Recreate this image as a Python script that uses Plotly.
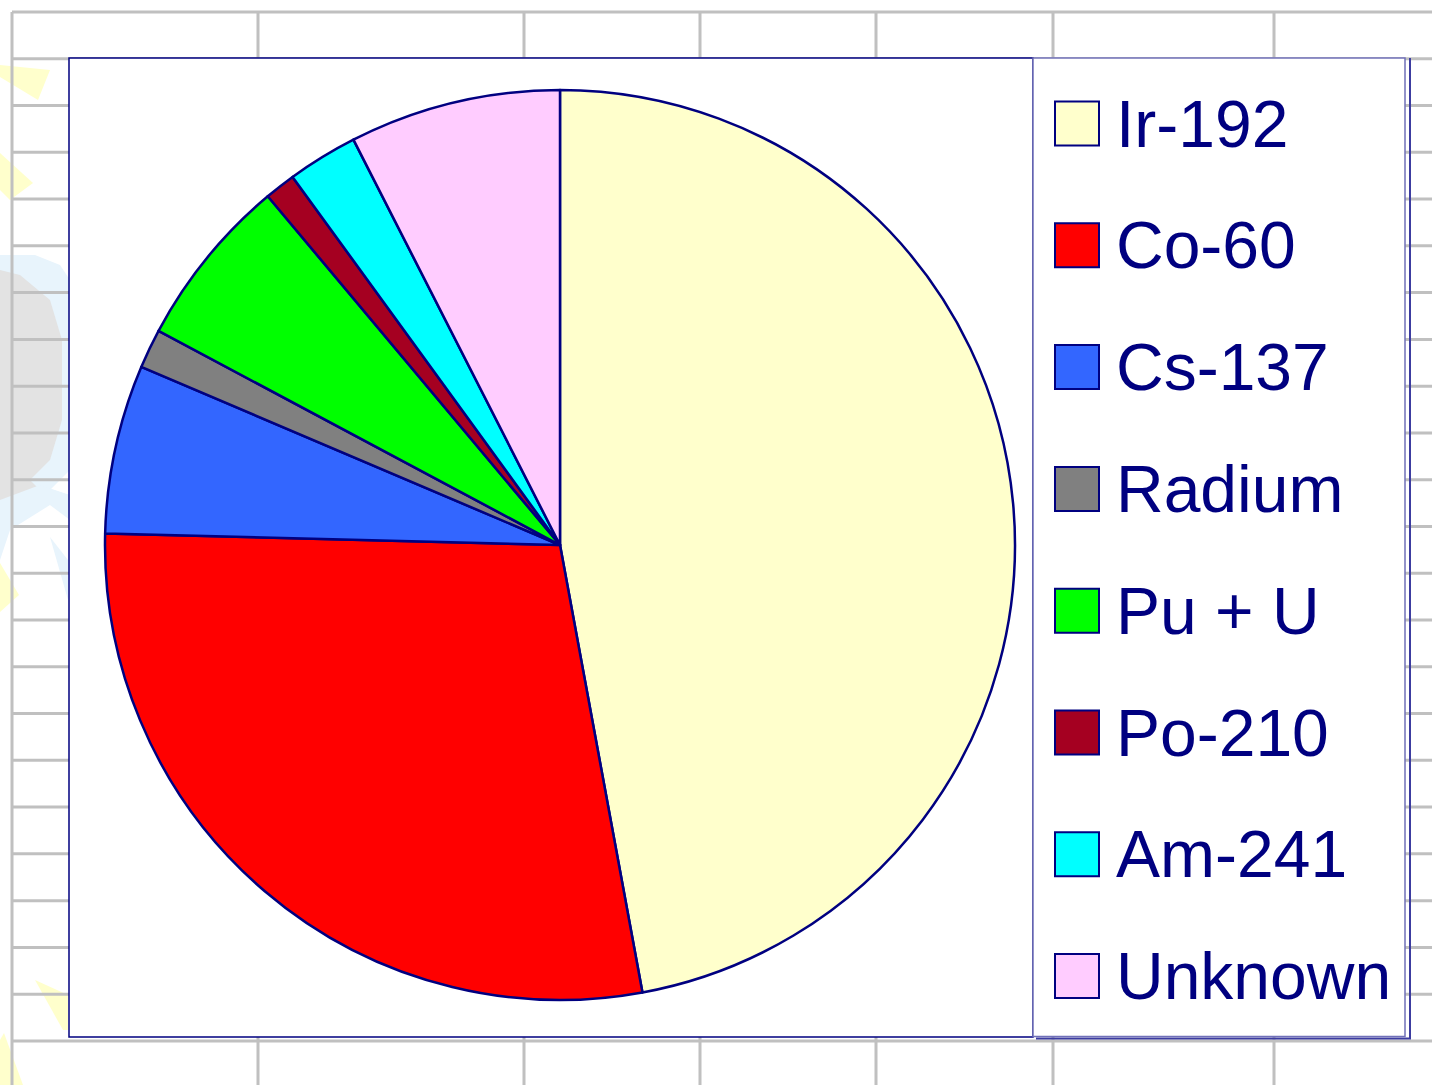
import plotly.graph_objects as go

# ---- data ----
labels = ["Ir-192", "Co-60", "Cs-137", "Radium", "Pu + U", "Po-210", "Am-241", "Unknown"]
values = [47.1, 28.3, 6.0, 1.4, 6.1, 1.1, 2.5, 7.5]
colors = ["#FFFFCC", "#FF0000", "#3366FF", "#808080", "#00FF00", "#A50021", "#00FFFF", "#FFCCFF"]

W, H = 1432, 1085
NAVY = "#000080"


def px(x):
    return x / W


def py(y):
    return 1 - y / H


fig = go.Figure()
fig.add_trace(go.Pie(
    labels=labels, values=values, sort=False, direction="clockwise", rotation=0,
    marker=dict(colors=colors, line=dict(color=NAVY, width=2.5)),
    textinfo="none", showlegend=False,
    domain=dict(x=[px(105), px(1015)], y=[py(1000), py(90)]),
))

shapes = []
# faint clip-art in the background (left strip)
clip = [
    ("M 0 65 L 50 70 L 38 100 L 0 77 Z", "#FFFFCC"),
    ("M 0 153 L 33 183 L 10 200 L 0 190 Z", "#FFFFCC"),
    ("M 0 255 L 35 255 L 60 265 L 70 280 L 70 470 L 50 490 L 20 500 L 0 505 Z", "#E8F4FC"),
    ("M 0 270 L 20 275 L 50 300 L 62 340 L 62 420 L 50 460 L 30 480 L 40 490 L 10 500 L 0 505 Z", "#E3E3E3"),
    ("M 0 500 L 40 485 L 70 495 L 70 520 L 50 505 L 10 530 L 0 560 Z", "#E8F4FC"),
    ("M 50 537 L 68 560 L 68 600 Z", "#E8F4FC"),
    ("M 0 563 L 19 595 L 0 612 Z", "#FFFFCC"),
    ("M 35 980 L 68 995 L 68 1030 L 63 1030 Z", "#FFFFCC"),
    ("M 4 1033 L 23 1085 L 0 1085 L 0 1040 Z", "#FFFFCC"),
]
for path, col in clip:
    pts = path.split()
    conv = []
    i = 0
    while i < len(pts):
        t = pts[i]
        if t in ("M", "L"):
            conv.append(f"{t} {px(float(pts[i+1]))} {py(float(pts[i+2]))}")
            i += 3
        else:
            conv.append(t)
            i += 1
    shapes.append(dict(type="path", xref="paper", yref="paper", path=" ".join(conv),
                       fillcolor=col, line=dict(width=0), layer="below"))

# spreadsheet grid
GRID = "#C0C0C0"
row_start, row_step = 12, 46.77
for k in range(23):
    y = row_start + k * row_step
    shapes.append(dict(type="line", xref="paper", yref="paper", x0=px(12), x1=1,
                       y0=py(y), y1=py(y), line=dict(color=GRID, width=3), layer="below"))
for x in [12, 258, 524, 700, 876, 1053, 1274]:
    shapes.append(dict(type="line", xref="paper", yref="paper", x0=px(x), x1=px(x),
                       y0=py(12), y1=0, line=dict(color=GRID, width=3), layer="below"))

# legend shadow lines
shapes.append(dict(type="path", xref="paper", yref="paper",
                   path=f"M {px(1410)} {py(58)} L {px(1410)} {py(1038.5)} L {px(1036)} {py(1038.5)}",
                   line=dict(color="#3C3CA0", width=2), layer="below"))
# plot area
shapes.append(dict(type="rect", xref="paper", yref="paper", x0=px(69), x1=px(1033),
                   y0=py(1037), y1=py(58), fillcolor="white", line=dict(color=NAVY, width=1.5),
                   layer="below"))
# legend box
shapes.append(dict(type="rect", xref="paper", yref="paper", x0=px(1033), x1=px(1405),
                   y0=py(1036.5), y1=py(58), fillcolor="white", line=dict(color="#7070B8", width=1.5),
                   layer="below"))

annotations = []
for i, (lab, col) in enumerate(zip(labels, colors)):
    yc = 123.5 + 121.8 * i
    shapes.append(dict(type="rect", xref="paper", yref="paper", x0=px(1055), x1=px(1099),
                       y0=py(yc + 22), y1=py(yc - 22), fillcolor=col,
                       line=dict(color=NAVY, width=2)))
    annotations.append(dict(xref="paper", yref="paper", x=px(1114), y=py(yc), text=lab,
                            showarrow=False, xanchor="left", yanchor="middle",
                            font=dict(family="Liberation Sans, Arial", size=66, color=NAVY)))

fig.update_layout(
    width=W, height=H, margin=dict(l=0, r=0, t=0, b=0),
    paper_bgcolor="white", plot_bgcolor="white",
    shapes=shapes, annotations=annotations, showlegend=False,
)

fig.write_html("out.html", config={"displayModeBar": False},
               post_script="document.body.style.margin='0';document.body.style.overflow='hidden';")
